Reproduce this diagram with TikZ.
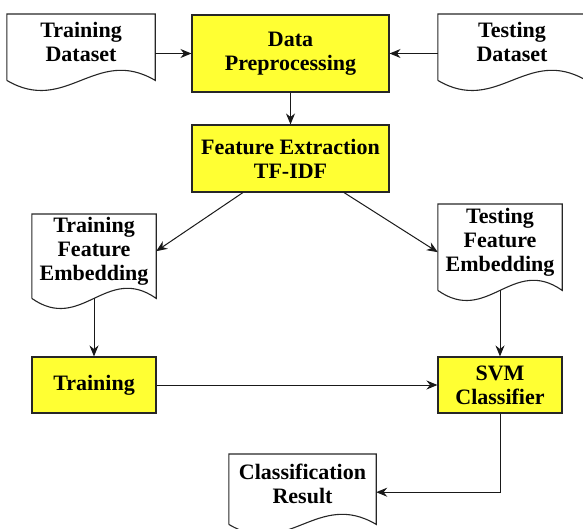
\documentclass[tikz,border=0pt]{standalone}
\usepackage{fontspec}
\setmainfont{Liberation Serif}
\usetikzlibrary{arrows.meta,calc}
\definecolor{procyellow}{RGB}{255,255,51}

% outline of a document box: sides run below the node, wavy bottom
\newcommand{\docline}[1]{\draw[line width=1.1pt,black!85]
  ($(#1.south west)+(0,10)$) -- (#1.north west) -- (#1.north east) -- ($(#1.south east)+(0,10)$)
  .. controls ($(#1.south east)!0.4!(#1.south west)+(0,-25)$) and ($(#1.south east)!0.6!(#1.south west)+(0,45)$) .. ($(#1.south west)+(0,10)$);}

\begin{document}
\begin{tikzpicture}[x=1pt,y=-1pt,
  proc/.style={rectangle,draw=black!85,fill=procyellow,line width=1.1pt,align=center,font=\fontsize{22}{24}\selectfont\bfseries},
  doc/.style={rectangle,anchor=north,inner sep=0pt,align=center,font=\fontsize{22}{24}\selectfont\bfseries},
  link/.style={-{Stealth[length=11pt,width=9pt]},line width=1pt,black!90}]
\useasboundingbox (0,0) rectangle (583,529);

% inputs
\node[doc,minimum width=148,minimum height=56] (trainset) at (81,14) {Training\\Dataset};
\node[doc,minimum width=148,minimum height=56] (testset) at (512,14) {Testing\\Dataset};
\docline{trainset}
\docline{testset}

% processing
\node[proc,minimum width=197,minimum height=77] (prep) at (290.5,53.5) {Data\\Preprocessing};
\node[proc,minimum width=197,minimum height=67] (feat) at (290.5,158.5) {Feature Extraction\\TF-IDF};

% embeddings
\node[doc,minimum width=124,minimum height=74] (trainemb) at (94,214) {Training\\Feature\\Embedding};
\node[doc,minimum width=124,minimum height=76] (testemb) at (500,204) {Testing\\Feature\\Embedding};
\docline{trainemb}
\docline{testemb}

\node[proc,minimum width=124,minimum height=56] (train) at (94,385) {Training};
\node[proc,minimum width=124,minimum height=56] (svm) at (500,385) {SVM\\Classifier};

\node[doc,minimum width=147,minimum height=60] (result) at (302.5,454) {Classification\\Result};
\docline{result}

% connectors
\draw[link] (prep.west -| trainset.east) -- (prep.west);
\draw[link] (prep.east -| testset.west) -- (prep.east);
\draw[link] (prep) -- (feat);
\draw[link] ($(feat.south west)!0.26!(feat.south east)$) -- (trainemb.east);
\draw[link] ($(feat.south west)!0.77!(feat.south east)$) -- ($(testemb.west)+(0,10)$);
\draw[link] ($(trainemb.south)+(0,10)$) -- (train.north);
\draw[link] ($(testemb.south)+(0,10)$) -- (svm.north);
\draw[link] (train) -- (svm);
\draw[link] (svm.south) |- ($(result.east)+(0,8)$);

\end{tikzpicture}
\end{document}
